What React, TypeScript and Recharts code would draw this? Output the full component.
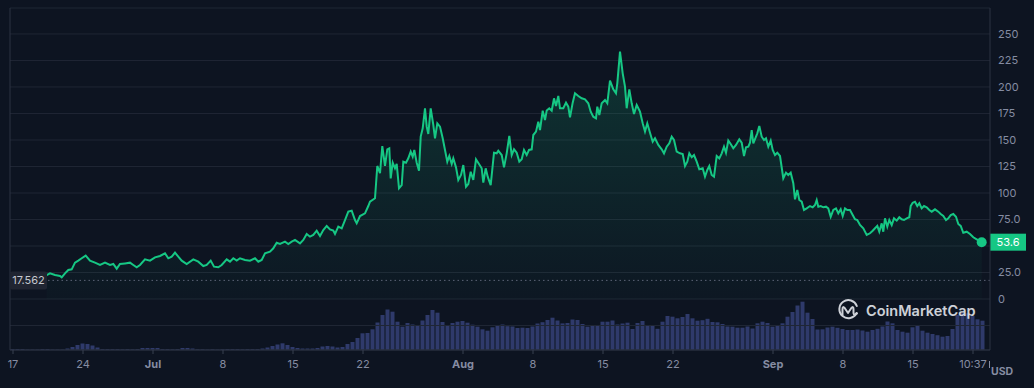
import React from "react";
import {
  ComposedChart,
  BarChart,
  Area,
  Bar,
  XAxis,
  YAxis,
  CartesianGrid,
  ReferenceLine,
  ReferenceDot,
} from "recharts";

// price series: [days since Jun 17 00:00, price in USD]
const pricePoints: [number, number][] = [
  [3.37, 22.6], [3.7, 24.2], [4.2, 22.6], [4.7, 21.7], [4.87, 20.4], [5.2, 24.2], [5.53, 27.4], [5.87, 28.0],
  [6.2, 34.3], [6.53, 36.2], [6.87, 38.4], [7.27, 40.9], [7.7, 36.2], [8.2, 34.3], [8.7, 32.1], [9.2, 34.3],
  [9.7, 32.1], [10.03, 33.0], [10.37, 28.6], [10.7, 33.0], [11.2, 33.6], [11.7, 34.3], [12.03, 32.1], [12.37, 29.9],
  [12.7, 32.1], [13.2, 37.4], [13.7, 36.2], [14.2, 39.3], [14.7, 40.6], [15.2, 43.1], [15.53, 38.4], [15.87, 39.9],
  [16.2, 43.7], [16.53, 39.9], [16.87, 36.2], [17.37, 33.0], [18.03, 37.4], [18.53, 35.2], [19.03, 31.1], [19.37, 32.1],
  [19.77, 36.2], [20.1, 30.5], [20.53, 29.9], [20.87, 32.1], [21.37, 37.4], [21.7, 35.2], [22.03, 38.4], [22.37, 36.2],
  [22.7, 38.4], [23.2, 36.8], [23.7, 36.2], [24.2, 38.4], [24.53, 35.2], [24.87, 36.8], [25.2, 43.1], [25.7, 44.7],
  [26.03, 47.8], [26.37, 53.1], [26.7, 51.9], [27.2, 54.1], [27.53, 51.9], [27.87, 54.1], [28.2, 55.7], [28.7, 52.5],
  [29.03, 55.7], [29.37, 61.3], [29.7, 58.8], [30.03, 60.4], [30.37, 64.5], [30.7, 59.4], [31.03, 65.1], [31.37, 68.9],
  [31.7, 65.7], [32.03, 64.5], [32.2, 61.3], [32.53, 68.2], [32.87, 66.7], [33.2, 74.5], [33.53, 82.4], [33.87, 83.3],
  [34.2, 74.5], [34.37, 71.4], [34.7, 78.3], [35.2, 80.8], [35.53, 87.7], [35.7, 91.8], [36.2, 95.0], [36.43, 125.5],
  [36.7, 118.6], [36.93, 144.3], [37.2, 125.5], [37.43, 141.2], [37.63, 142.1], [37.77, 113.8], [37.97, 128.6], [38.2, 123.3],
  [38.37, 127.4], [38.6, 104.4], [38.87, 107.5], [39.03, 129.6], [39.3, 128.6], [39.53, 132.7], [39.77, 139.0], [39.97, 134.3],
  [40.13, 140.6], [40.37, 128.6], [40.6, 121.1], [40.77, 153.2], [40.97, 161.0], [41.2, 179.9], [41.37, 162.6], [41.53, 155.7],
  [41.77, 179.9], [42.03, 164.2], [42.2, 151.6], [42.43, 165.7], [42.7, 162.6], [42.97, 151.6], [43.2, 140.6], [43.43, 129.6],
  [43.63, 134.9], [43.87, 127.4], [44.03, 132.7], [44.3, 124.2], [44.53, 112.3], [44.8, 117.0], [45.03, 126.4], [45.3, 105.9],
  [45.53, 108.5], [45.77, 120.1], [46.03, 112.3], [46.3, 131.8], [46.6, 127.4], [46.87, 123.3], [47.03, 109.7], [47.27, 123.3],
  [47.47, 115.4], [47.77, 107.5], [48.1, 138.0], [48.37, 137.4], [48.53, 139.9], [48.87, 135.8], [49.1, 124.2], [49.37, 137.4],
  [49.63, 153.8], [49.87, 135.8], [50.1, 141.2], [50.37, 138.0], [50.63, 129.6], [50.87, 131.8], [51.1, 140.6], [51.37, 135.8],
  [51.6, 140.6], [51.87, 141.2], [52.03, 154.7], [52.3, 157.9], [52.53, 167.3], [52.7, 159.4], [52.97, 177.7], [53.2, 168.9],
  [53.37, 177.7], [53.63, 179.9], [53.87, 177.7], [54.1, 189.3], [54.3, 182.1], [54.53, 191.5], [54.7, 179.9], [55.03, 179.9],
  [55.3, 185.2], [55.53, 181.4], [55.7, 171.4], [55.97, 185.2], [56.2, 194.0], [56.53, 191.5], [56.87, 189.3], [57.2, 188.4],
  [57.53, 184.6], [57.77, 176.7], [58.03, 172.0], [58.3, 170.5], [58.43, 181.4], [58.63, 173.6], [58.87, 184.6], [59.2, 187.7],
  [59.43, 184.6], [59.7, 206.0], [60.03, 197.8], [60.3, 194.0], [60.43, 203.5], [60.7, 233.3], [60.97, 212.9], [61.2, 200.3],
  [61.37, 179.9], [61.63, 197.8], [61.87, 184.6], [62.1, 174.5], [62.37, 183.0], [62.7, 176.7], [62.97, 165.7], [63.2, 157.9],
  [63.43, 165.7], [63.7, 156.9], [63.97, 148.4], [64.2, 151.6], [64.53, 145.3], [64.87, 141.2], [65.1, 137.4], [65.37, 143.7],
  [65.63, 146.9], [65.87, 153.2], [66.1, 150.0], [66.37, 139.0], [66.7, 137.4], [66.97, 136.8], [67.2, 125.5], [67.43, 129.6],
  [67.63, 137.4], [67.87, 133.7], [68.1, 135.8], [68.37, 129.6], [68.63, 122.4], [68.97, 123.3], [69.2, 115.4], [69.43, 121.7],
  [69.63, 125.5], [69.87, 117.0], [70.1, 115.4], [70.37, 134.9], [70.63, 132.7], [70.87, 137.4], [71.1, 143.7], [71.3, 138.0],
  [71.53, 149.4], [71.77, 146.2], [72.03, 142.1], [72.3, 145.3], [72.63, 150.6], [72.87, 147.5], [73.1, 134.9], [73.3, 143.1],
  [73.53, 143.7], [73.7, 147.5], [73.87, 159.4], [74.03, 146.9], [74.27, 152.5], [74.43, 156.3], [74.63, 163.2], [74.87, 153.1],
  [75.1, 150.0], [75.3, 151.6], [75.53, 143.7], [75.77, 149.4], [75.97, 140.6], [76.2, 135.8], [76.43, 138.0], [76.7, 134.9],
  [77.03, 113.9], [77.3, 119.2], [77.53, 117.0], [77.77, 119.2], [78.03, 109.2], [78.2, 94.0], [78.43, 102.8], [78.63, 93.4],
  [78.87, 91.8], [79.1, 84.0], [79.37, 85.5], [79.7, 87.7], [79.97, 86.5], [80.2, 88.7], [80.37, 93.4], [80.53, 87.1],
  [80.77, 87.7], [81.03, 86.5], [81.3, 87.1], [81.53, 85.5], [81.77, 77.6], [82.03, 84.0], [82.3, 85.5], [82.53, 80.8],
  [82.77, 84.6], [82.97, 78.3], [83.2, 85.5], [83.43, 84.0], [83.7, 84.0], [83.97, 79.2], [84.2, 75.2], [84.43, 74.5],
  [84.7, 69.8], [85.03, 66.7], [85.37, 60.4], [85.7, 62.0], [85.97, 64.4], [86.2, 66.7], [86.43, 68.9], [86.63, 63.5],
  [86.87, 71.4], [87.03, 63.5], [87.2, 76.1], [87.43, 68.2], [87.63, 74.5], [87.87, 69.8], [88.1, 76.1], [88.37, 73.9],
  [88.63, 77.1], [88.87, 75.2], [89.1, 74.5], [89.37, 76.1], [89.63, 77.1], [89.77, 87.7], [89.97, 90.8], [90.2, 91.8],
  [90.43, 87.7], [90.63, 90.3], [90.87, 85.5], [91.1, 87.7], [91.37, 86.5], [91.63, 84.0], [91.87, 82.4], [92.2, 84.6],
  [92.53, 82.4], [92.77, 80.2], [93.03, 78.3], [93.3, 74.5], [93.53, 76.1], [93.77, 79.2], [94.03, 80.2], [94.3, 77.6],
  [94.53, 70.8], [94.77, 68.9], [95.03, 62.5], [95.37, 63.5], [95.7, 61.3], [96.03, 58.2], [96.37, 56.3], [96.87, 53.6],
];

// 24h-volume bars (USD millions), one every half day starting Jun 17 00:00
const volumeStartDay = 0;
const volumeStepDays = 0.5;
const volumes: number[] = [
  1, 1, 1, 0.5, 0.5, 0.5, 1, 1, 0.5, 0.5, 0.5, 1.5, 3, 5, 6.5, 6, 4.5, 2.5, 1, 1,
  1, 1, 0.8, 1, 0.8, 1, 2, 2, 2, 2, 1, 1, 0.8, 1, 2, 2, 1.5, 0.8, 0.8, 0.5,
  0.8, 0.5, 0.8, 1, 1, 1, 0.8, 1, 1, 1, 1.5, 2.5, 4, 5.5, 6.7, 5, 3, 2, 1.5, 1.5,
  1.5, 2, 3.5, 4, 3.5, 2.5, 3, 6, 8, 12, 16.7, 17, 20.7, 27.5, 35, 40.5, 38.3, 28.3, 23.3, 27,
  25.5, 24.5, 29.5, 35, 40, 37.3, 28, 24.5, 27, 28.3, 29, 27.3, 25.3, 23.3, 20.7, 19.3, 22.7, 24, 25.5, 23.8,
  23.5, 22, 22.3, 22, 23.5, 26.5, 27.8, 30, 32.3, 29.5, 26.6, 27, 30.5, 30, 26, 23.3, 24, 24, 28.3, 28.3,
  29.5, 25.5, 26.5, 27.3, 21, 27, 29, 24, 24, 21.2, 28.3, 34, 33.3, 31.7, 33, 36, 31.7, 29.3, 29.8, 31.2,
  28, 27.7, 26, 23.5, 23.3, 22.3, 22.3, 23.5, 21.5, 26.7, 28.3, 27, 23.3, 24, 26.7, 33.3, 38, 44.5, 48.3, 37.3,
  31, 20.5, 20.7, 22.5, 23.3, 22.2, 21, 20, 20, 20.5, 19.5, 18.3, 20, 21.2, 23.5, 28.5, 26.7, 20, 18.3, 17.3,
  22.7, 24, 19.3, 17.3, 16, 14.8, 13.3, 14, 21, 35, 37.3, 36.7, 34, 30.7, 29.3,
];

const xTicks = [0, 7, 14, 21, 28, 35, 45, 52, 59, 66, 76, 83, 90, 96];
const xTickLabels = ["17", "24", "Jul", "8", "15", "22", "Aug", "8", "15", "22", "Sep", "8", "15", "10:37"];
const monthLabels = ["Jul", "Aug", "Sep"];
const yTicks = [-25, 0, 25, 50, 75, 100, 125, 150, 175, 200, 225, 250];
const yTickLabels = ["", "0", "25.0", "", "75.0", "100", "125", "150", "175", "200", "225", "250"];
const startPrice = 17.562;
const lastPrice = 53.6;
const lastPriceLabel = "53.6";
const startPriceLabel = "17.562";
const currencyLabel = "USD";
const brandName = "CoinMarketCap";

const priceDomain: [number, number] = [-48.1, 274.5];
const volumeDomain: [number, number] = [0, 342];
const dayDomain: [number, number] = [-0.3, 97.7];

const priceRows = pricePoints.map(([t, price]) => ({ t, price }));
const volumeRows = volumes.map((vol, i) => ({ t: volumeStartDay + i * volumeStepDays, vol }));

const FONT = "Inter, 'Noto Sans', sans-serif";
const GREEN = "#16c784";
const AXIS_TEXT = "#858ca2";
const W = 1034;
const H = 388;
const MARGIN = { top: 8, right: 0, bottom: 0, left: 10 };

const XTick = (props: any) => {
  const { x, y, payload } = props;
  const i = xTicks.indexOf(payload.value);
  const label = i >= 0 ? xTickLabels[i] : "";
  const bold = monthLabels.includes(label);
  return (
    <text x={x} y={y} dy="0.71em" textAnchor="middle" fill={AXIS_TEXT} fontSize={11}
      fontWeight={bold ? 700 : 400} fontFamily={FONT}>
      {label}
    </text>
  );
};

const LastPriceTag = (props: any) => {
  const vb = props.viewBox || {};
  const x = (vb.x ?? 0) + (vb.width ?? 0);
  const y = vb.y ?? 0;
  return (
    <g>
      <rect x={x} y={y - 8.5} width={36} height={17} fill={GREEN} />
      <text x={x + 18} y={y} dy="0.36em" textAnchor="middle" fill="#ffffff" fontSize={11} fontFamily={FONT}>
        {lastPriceLabel}
      </text>
    </g>
  );
};

const StartPriceTag = (props: any) => {
  const vb = props.viewBox || {};
  const x = vb.x ?? 0;
  const y = vb.y ?? 0;
  return (
    <g>
      <rect x={x} y={y - 9} width={37} height={18} rx={2} fill="#202532" />
      <text x={x + 18.5} y={y} dy="0.36em" textAnchor="middle" fill="#c5c8d0" fontSize={11} fontFamily={FONT}>
        {startPriceLabel}
      </text>
    </g>
  );
};

export default function App() {
  return (
    <div style={{ position: "relative", width: W, height: H, background: "#0d1421", fontFamily: FONT }}>
      <style>{`body{margin:0;background:#0d1421;}`}</style>
      <div style={{ position: "absolute", left: 0, top: 0 }}>
        <BarChart width={W} height={H} data={volumeRows} margin={{ ...MARGIN, right: 44, bottom: 38 }}>
          <XAxis dataKey="t" type="number" domain={dayDomain} allowDataOverflow hide />
          <YAxis hide domain={volumeDomain} allowDataOverflow />
          <Bar dataKey="vol" fill="#2f3a6b" barSize={4} isAnimationActive={false} />
        </BarChart>
      </div>
      <div style={{ position: "absolute", left: 0, top: 0 }}>
        <ComposedChart width={W} height={H} data={priceRows} margin={MARGIN}>
          <defs>
            <linearGradient id="priceFill" x1="0" y1="0" x2="0" y2="1">
              <stop offset="0%" stopColor={GREEN} stopOpacity={0.3} />
              <stop offset="100%" stopColor={GREEN} stopOpacity={0.03} />
            </linearGradient>
          </defs>
          <CartesianGrid vertical={false} stroke="#1f2634" strokeWidth={1} />
          <XAxis
            dataKey="t"
            type="number"
            domain={dayDomain}
            allowDataOverflow
            ticks={xTicks}
            interval={0}
            height={38}
            tick={<XTick />}
            tickSize={4}
            tickMargin={6}
            tickLine={{ stroke: "#394051" }}
            axisLine={{ stroke: "#2c3342" }}
          />
          <YAxis
            orientation="right"
            domain={priceDomain}
            allowDataOverflow
            ticks={yTicks}
            interval={0}
            width={44}
            tickLine={false}
            tickSize={4}
            tickMargin={4}
            axisLine={{ stroke: "#2c3342" }}
            tick={{ fill: AXIS_TEXT, fontSize: 11, fontFamily: FONT, textAnchor: "start" }}
            tickFormatter={(v: number) => {
              const i = yTicks.indexOf(v);
              return i >= 0 ? yTickLabels[i] : "";
            }}
          />
          <ReferenceLine x={dayDomain[0]} stroke="#2c3342" ifOverflow="visible" />
          <Area
            type="linear"
            dataKey="price"
            stroke={GREEN}
            strokeWidth={2}
            fill="url(#priceFill)"
            baseValue={0}
            dot={false}
            activeDot={false}
            isAnimationActive={false}
          />
          <ReferenceLine
            y={startPrice}
            stroke="#5d6477"
            strokeDasharray="1.5 3"
            label={<StartPriceTag />}
          />
          <ReferenceLine y={lastPrice} stroke="none" label={<LastPriceTag />} />
          <ReferenceDot
            x={pricePoints[pricePoints.length - 1][0]}
            y={lastPrice}
            r={5}
            fill={GREEN}
            stroke="none"
          />
        </ComposedChart>
      </div>
      <svg
        width={W}
        height={H}
        style={{ position: "absolute", left: 0, top: 0, pointerEvents: "none" }}
      >
        <g opacity={0.9}>
          <path
            d="M 856.5 313 A 9 9 0 1 1 856.8 306"
            fill="none"
            stroke="#e3e6ec"
            strokeWidth={2}
            strokeLinecap="round"
          />
          <path
            d="M 842.5 315 L 842.5 309 Q 842.5 305.5 845 308.5 L 848 313 L 851 308.5 Q 853.5 305.5 853.5 309 L 853.5 313 Q 854 316 857 313.5"
            fill="none"
            stroke="#e3e6ec"
            strokeWidth={2}
            strokeLinecap="round"
            strokeLinejoin="round"
          />
          <text x={866} y={316} fill="#e3e6ec" fontSize={14.5} fontWeight={600} fontFamily={FONT}>
            {brandName}
          </text>
        </g>
        <line x1={989.5} y1={361} x2={989.5} y2={368} stroke={AXIS_TEXT} strokeWidth={1} />
        <text x={991} y={375} fill={AXIS_TEXT} fontSize={10.5} fontWeight={700} fontFamily={FONT}>
          {currencyLabel}
        </text>
      </svg>
    </div>
  );
}
